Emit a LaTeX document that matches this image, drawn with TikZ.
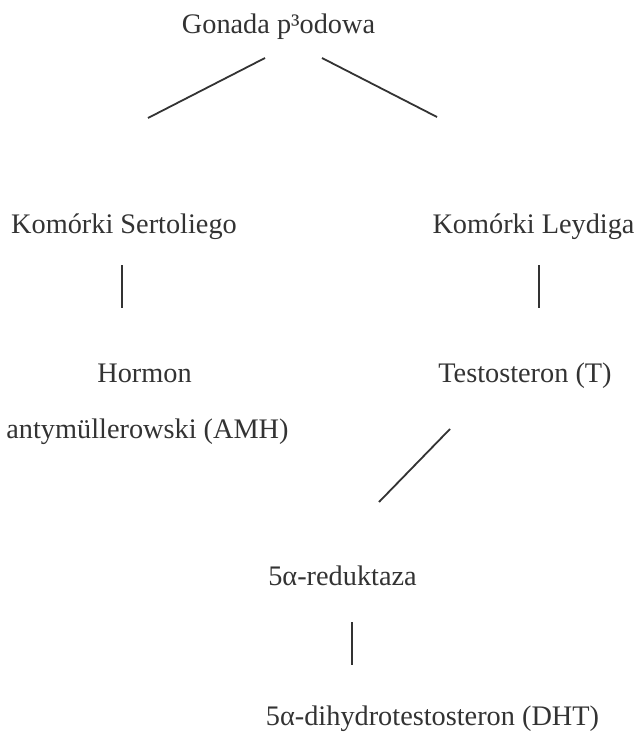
\documentclass[tikz,border=0pt]{standalone}
\usepackage{fontspec}
\setmainfont{Liberation Serif}
\begin{document}
\begin{tikzpicture}[x=1pt, y=-1pt,
    label/.style={anchor=base, inner sep=0pt, text=black!80, font=\fontsize{28.3}{34}\selectfont},
    link/.style={draw=black!80, line width=1.8pt}]
    \useasboundingbox[fill=white] (0,0) rectangle (637,738);

    % Nodes
    \node[label] (gonada) at (278.5, 34) {Gonada p³odowa};
    \node[label] (sertoli) at (124, 233) {Komórki Sertoliego};
    \node[label] (leydig) at (533.5, 233) {Komórki Leydiga};
    \node[label] (hormon) at (144.5, 382) {Hormon};
    \node[label] (amh) at (147.5, 438) {antymüllerowski (AMH)};
    \node[label] (testo) at (525, 382) {Testosteron (T)};
    \node[label] (reduk) at (342.5, 585) {5α-reduktaza};
    \node[label] (dht) at (432.5, 725) {5α-dihydrotestosteron (DHT)};

    % Line ends
    \coordinate (gL) at (265, 58);
    \coordinate (sT) at (148, 118);
    \coordinate (gR) at (322, 58);
    \coordinate (lT) at (437, 117);
    \coordinate (sB) at (122, 265);
    \coordinate (hT) at (122, 308);
    \coordinate (lB) at (539, 265);
    \coordinate (tT) at (539, 308);
    \coordinate (tB) at (450, 429);
    \coordinate (rT) at (379, 502);
    \coordinate (rB) at (352, 622);
    \coordinate (dT) at (352, 665);

    % Lines
    \draw[link] (gL) -- (sT);
    \draw[link] (gR) -- (lT);
    \draw[link] (sB) -- (hT);
    \draw[link] (lB) -- (tT);
    \draw[link] (tB) -- (rT);
    \draw[link] (rB) -- (dT);
\end{tikzpicture}
\end{document}
